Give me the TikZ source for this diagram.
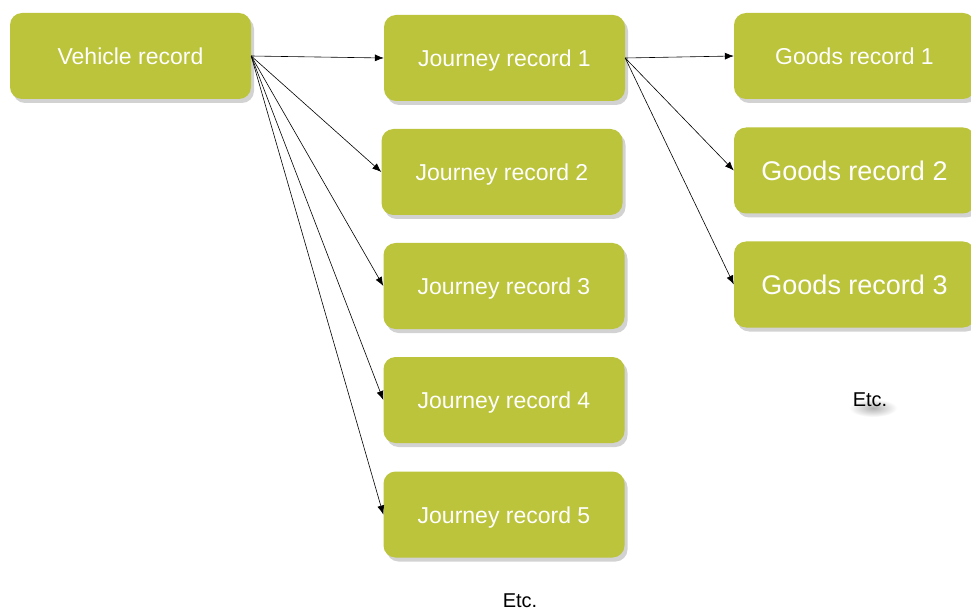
\documentclass[tikz,border=0pt]{standalone}
\usepackage{fontspec}
\setmainfont{Liberation Sans}
\usetikzlibrary{shadows,arrows.meta}
\definecolor{olive}{RGB}{187,196,58}
\tikzset{
  rec/.style={rectangle, rounded corners=12pt, fill=olive, text=white,
    minimum width=241pt, minimum height=86pt, inner sep=0pt,
    text height=17pt, text depth=0pt,
    font=\fontsize{23}{26}\selectfont,
    drop shadow={opacity=0.35, shadow xshift=3pt, shadow yshift=-4pt}},
  big/.style={font=\fontsize{27}{30}\selectfont, text height=20pt},
  link/.style={draw=black, line width=0.6pt, -{Latex[length=9pt,width=7pt]}},
  etc/.style={font=\fontsize{20}{24}\selectfont, text=black, inner sep=0pt}
}
\begin{document}
\begin{tikzpicture}[x=1pt,y=-1pt]
\useasboundingbox[fill=white] (0,0) rectangle (971,612);
\shade[inner color=black!30, outer color=white] (873,408) ellipse [x radius=24pt, y radius=9pt];
\node[rec] (v) at (130.5,56) {Vehicle record};
\node[rec] (j1) at (504.5,58) {Journey record 1};
\node[rec] (j2) at (502,172) {Journey record 2};
\node[rec] (j3) at (504,286) {Journey record 3};
\node[rec] (j4) at (504,400) {Journey record 4};
\node[rec] (j5) at (504,514.5) {Journey record 5};
\node[rec] (g1) at (854.5,56) {Goods record 1};
\node[rec,big] (g2) at (854.5,170.5) {Goods record 2};
\node[rec,big] (g3) at (854.5,284.5) {Goods record 3};
\node[etc] (e2) at (870,400) {Etc.};
\node[etc] (e1) at (520,601) {Etc.};
\foreach \t in {j1,j2,j3,j4,j5} \draw[link] (v.east) -- (\t.west);
\foreach \t in {g1,g2,g3} \draw[link] (j1.east) -- (\t.west);
\end{tikzpicture}
\end{document}
